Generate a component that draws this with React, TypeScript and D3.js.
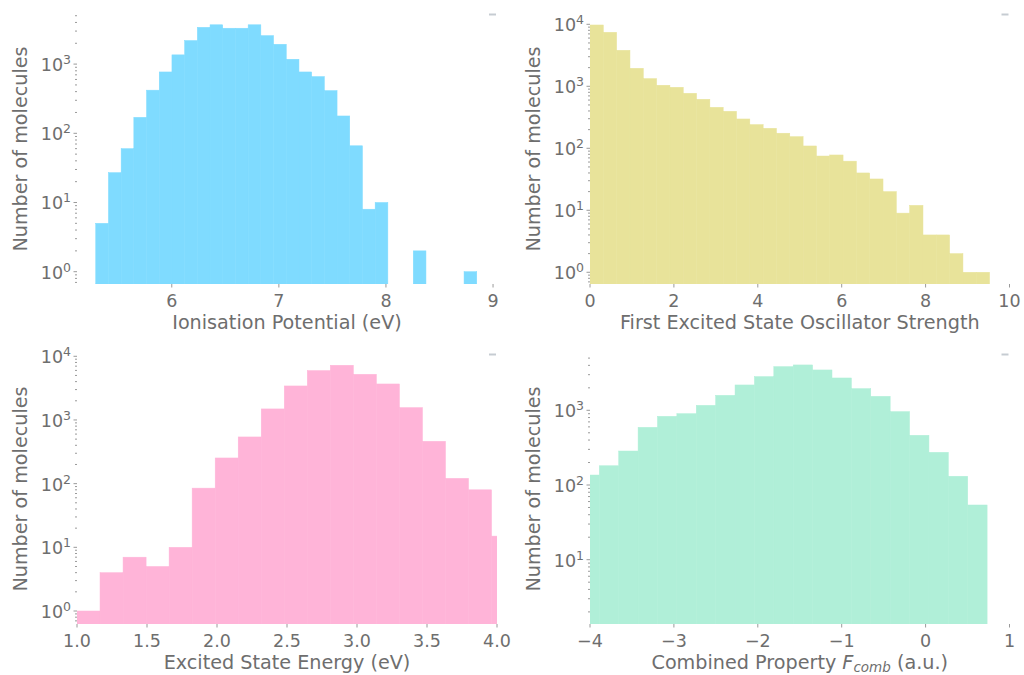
import React from "react";
import * as d3 from "d3";

const FONT = "DejaVu Sans";
const TEXT = "#6e6e6e";
const TICK = "#9a9a9a";

// Ionisation potential histogram
const ipBinStart = 5.29;
const ipBinWidth = 0.1186;
const ipCounts = [5, 27, 60, 170, 420, 770, 1360, 2190, 3400, 3700, 3300, 3300, 3700, 2580, 1935, 1175, 770, 660, 414, 178, 66, 8, 10, 0, 0, 2, 0, 0, 0, 1];
const ipXTicks = [6, 7, 8, 9];

// Oscillator strength histogram
const oscBinStart = 0;
const oscBinWidth = 0.3175;
const oscCounts = [9750, 7430, 3810, 1950, 1330, 1040, 964, 771, 617, 458, 395, 297, 241, 210, 175, 154, 109, 75, 78, 62, 40, 32, 20, 9, 12, 4, 4, 2, 1, 1];
const oscXTicks = [0, 2, 4, 6, 8, 10];

// Excited state energy histogram
const eBinStart = 1.0;
const eBinWidth = 0.1645;
const eCounts = [1, 4, 7, 5, 10, 85, 253, 541, 1490, 3420, 5960, 7220, 5210, 3675, 1563, 462, 121, 80, 15];
const eXTicks = [1.0, 1.5, 2.0, 2.5, 3.0, 3.5, 4.0];

// Combined property histogram
const cBinStart = -4.12;
const cBinWidth = 0.2311;
const cCounts = [136, 181, 285, 592, 831, 902, 1166, 1588, 2185, 2825, 3845, 4050, 3470, 2710, 1950, 1540, 960, 463, 274, 131, 54];
const cXTicks = [-4, -3, -2, -1, 0, 1];

type PanelProps = {
  id: string;
  left: number;
  right: number;
  top: number;
  bottom: number;
  xDomain: [number, number];
  yDomain: [number, number];
  binStart: number;
  binWidth: number;
  counts: number[];
  color: string;
  xTicks: number[];
  xFormat: (v: number) => string;
  xLabel: React.ReactNode;
};

function Panel(p: PanelProps) {
  const x = d3.scaleLinear().domain(p.xDomain).range([p.left, p.right]);
  const y = d3.scaleLog().domain(p.yDomain).range([p.bottom, p.top]);
  const [y0, y1] = p.yDomain;
  const kMin = Math.ceil(Math.log10(y0) - 1e-9);
  const kMax = Math.floor(Math.log10(y1) + 1e-9);
  const majors: number[] = [];
  for (let k = kMin; k <= kMax; k++) majors.push(k);
  const minors: number[] = [];
  for (let k = kMin - 1; k <= kMax; k++) {
    for (let m = 2; m <= 9; m++) {
      const v = m * Math.pow(10, k);
      if (v >= y0 && v <= y1) minors.push(v);
    }
  }
  const bars = p.counts
    .map((c, i) => ({ c, x0: p.binStart + i * p.binWidth, x1: p.binStart + (i + 1) * p.binWidth }))
    .filter((b) => b.c > 0);
  const cx = (p.left + p.right) / 2;
  const cy = (p.top + p.bottom) / 2;
  return (
    <g>
      <defs>
        <clipPath id={p.id}>
          <rect x={p.left} y={p.top} width={p.right - p.left} height={p.bottom - p.top} />
        </clipPath>
      </defs>
      <g clipPath={`url(#${p.id})`}>
        {bars.map((b, i) => (
          <rect
            key={i}
            x={x(b.x0)}
            y={y(b.c)}
            width={x(b.x1) - x(b.x0)}
            height={p.bottom - y(b.c)}
            fill={p.color}
            stroke={p.color}
            strokeWidth={0.5}
          />
        ))}
      </g>
      {minors.map((v, i) => (
        <line key={"mn" + i} x1={p.left - 2} x2={p.left} y1={y(v)} y2={y(v)} stroke={TICK} strokeWidth={1} />
      ))}
      {majors.map((k) => (
        <g key={"mj" + k}>
          <line x1={p.left - 3.5} x2={p.left} y1={y(Math.pow(10, k))} y2={y(Math.pow(10, k))} stroke={TICK} strokeWidth={1} />
          <text x={p.left - 6} y={y(Math.pow(10, k)) + 7} textAnchor="end" fontFamily={FONT} fontSize={17.5} fill={TEXT}>
            <tspan>10</tspan>
            <tspan dy={-7} fontSize={12.5}>{String(k)}</tspan>
          </text>
        </g>
      ))}
      {p.xTicks.map((v, i) => (
        <g key={"xt" + i}>
          <line x1={x(v)} x2={x(v)} y1={p.bottom} y2={p.bottom + 3.5} stroke={TICK} strokeWidth={1} />
          <text x={x(v)} y={p.bottom + 23} textAnchor="middle" fontFamily={FONT} fontSize={17.5} fill={TEXT}>
            {p.xFormat(v)}
          </text>
        </g>
      ))}
      <text x={cx} y={p.bottom + 45} textAnchor="middle" fontFamily={FONT} fontSize={19.2} fill={TEXT}>
        {p.xLabel}
      </text>
      <text
        transform={`translate(${p.left - 50},${cy}) rotate(-90)`}
        textAnchor="middle"
        fontFamily={FONT}
        fontSize={19.2}
        fill={TEXT}
      >
        Number of molecules
      </text>
      <line x1={p.right - 8} x2={p.right - 1} y1={p.top + 0.5} y2={p.top + 0.5} stroke="#c6ccd2" strokeWidth={2} />
    </g>
  );
}

const minusFmt = (v: number) => (v < 0 ? "\u2212" + String(Math.abs(v)) : String(v));

export default function App() {
  const L = [77, 497];
  const R = [590, 1009.5];
  const T = [14, 284];
  const B = [354, 624];
  return (
    <svg width={1024} height={675} style={{ position: "fixed", left: 0, top: 0, background: "#fff" }}>
      <rect x={0} y={0} width={1024} height={675} fill="#fff" />
      <Panel
        id="c1"
        left={L[0]}
        right={L[1]}
        top={T[0]}
        bottom={T[1]}
        xDomain={[5.115, 9.037]}
        yDomain={[0.664, 5297]}
        binStart={ipBinStart}
        binWidth={ipBinWidth}
        counts={ipCounts}
        color="#7fdbff"
        xTicks={ipXTicks}
        xFormat={(v) => String(v)}
        xLabel="Ionisation Potential (eV)"
      />
      <Panel
        id="c2"
        left={R[0]}
        right={R[1]}
        top={T[0]}
        bottom={T[1]}
        xDomain={[0, 10]}
        yDomain={[0.647, 14660]}
        binStart={oscBinStart}
        binWidth={oscBinWidth}
        counts={oscCounts}
        color="#e8e39a"
        xTicks={oscXTicks}
        xFormat={(v) => String(v)}
        xLabel="First Excited State Oscillator Strength"
      />
      <Panel
        id="c3"
        left={L[0]}
        right={L[1]}
        top={B[0]}
        bottom={B[1]}
        xDomain={[1, 4]}
        yDomain={[0.625, 10860]}
        binStart={eBinStart}
        binWidth={eBinWidth}
        counts={eCounts}
        color="#ffb4d8"
        xTicks={eXTicks}
        xFormat={(v) => v.toFixed(1)}
        xLabel="Excited State Energy (eV)"
      />
      <Panel
        id="c4"
        left={R[0]}
        right={R[1]}
        top={B[0]}
        bottom={B[1]}
        xDomain={[-4, 1]}
        yDomain={[1.377, 5675]}
        binStart={cBinStart}
        binWidth={cBinWidth}
        counts={cCounts}
        color="#b0efd8"
        xTicks={cXTicks}
        xFormat={minusFmt}
        xLabel={
          <>
            <tspan>Combined Property </tspan>
            <tspan fontStyle="italic">F</tspan>
            <tspan fontStyle="italic" fontSize={13.5} dy={3}>comb</tspan>
            <tspan dy={-3}> (a.u.)</tspan>
          </>
        }
      />
    </svg>
  );
}
